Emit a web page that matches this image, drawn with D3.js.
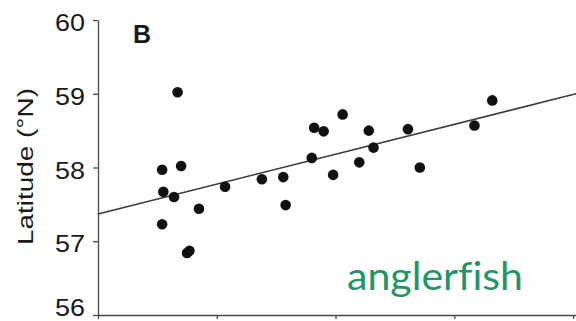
<!DOCTYPE html>
<html>
<head>
<meta charset="utf-8">
<script src="https://cdn.jsdelivr.net/npm/d3@7"></script>
<style>
  html, body { margin: 0; padding: 0; background: #fff; }
  svg { display: block; }
</style>
</head>
<body>
<svg id="chart" width="576" height="321"></svg>
<script>
// Station positions: predictor value (x) and latitude in °N (y)
const xValues = [0.67, 0.54, 0.70, 0.55, 0.64, 1.07, 0.85, 0.54, 0.77, 0.75,
                 1.38, 1.56, 1.58, 1.80, 1.82, 1.90, 2.06, 1.98, 2.28, 2.32,
                 2.20, 2.61, 2.71, 3.17, 3.32];
const latValues = [59.02, 57.97, 58.02, 57.67, 57.60, 57.74, 57.44, 57.23, 56.87, 56.84,
                   57.84, 57.87, 57.49, 58.13, 58.54, 58.49, 58.72, 57.90, 58.50, 58.27,
                   58.07, 58.52, 58.00, 58.57, 58.91];
// Least-squares trend line endpoints
const fitX = [0, 4.025];
const fitLat = [57.37, 59.0];
const yTicks = [56, 57, 58, 59, 60];
const xTicks = [0, 1, 2, 3, 4];
const panelLabel = "B";
const speciesLabel = "anglerfish";
const yTitle = "Latitude (°N)";

const svg = d3.select("#chart");
const x = d3.scaleLinear().domain([0, 4.025]).range([98, 576]);
const y = d3.scaleLinear().domain([56, 60]).range([315, 20]);

const axisColor = "#4a4a4a";

// Y axis
const yAxis = svg.append("g").attr("transform", `translate(${x(0)},0)`)
  .call(d3.axisLeft(y).tickValues(yTicks).tickSize(5).tickSizeOuter(0).tickFormat(""));
yAxis.selectAll("path, line").attr("stroke", axisColor).attr("stroke-width", 1.3);

svg.append("g").selectAll("text").data(yTicks).join("text")
  .attr("x", 85)
  .attr("y", d => Math.min(y(d) + 3, 307.5))
  .attr("dominant-baseline", "central")
  .attr("text-anchor", "end")
  .attr("font-family", "Liberation Sans, Arial, sans-serif")
  .attr("font-size", 23)
  .attr("textLength", 30)
  .attr("lengthAdjust", "spacingAndGlyphs")
  .attr("fill", "#1a1a1a")
  .text(d => d);

// X axis
const xAxis = svg.append("g").attr("transform", `translate(0,${y(56)})`)
  .call(d3.axisBottom(x).tickValues(xTicks).tickSize(4).tickSizeOuter(0).tickFormat(""));
xAxis.selectAll("path, line").attr("stroke", axisColor).attr("stroke-width", 1.3);

// Trend line
svg.append("line")
  .attr("x1", x(fitX[0])).attr("y1", y(fitLat[0]))
  .attr("x2", x(fitX[1])).attr("y2", y(fitLat[1]))
  .attr("stroke", "#3a3a3a").attr("stroke-width", 1.6);

// Points
svg.append("g").selectAll("circle").data(d3.zip(xValues, latValues)).join("circle")
  .attr("cx", d => x(d[0]))
  .attr("cy", d => y(d[1]))
  .attr("r", 5.3)
  .attr("fill", "#111");

// Y title
svg.append("text")
  .attr("transform", "translate(33,166.5) rotate(-90)")
  .attr("text-anchor", "middle")
  .attr("font-family", "Liberation Sans, Arial, sans-serif")
  .attr("font-size", 22)
  .attr("textLength", 157)
  .attr("lengthAdjust", "spacingAndGlyphs")
  .attr("fill", "#1a1a1a")
  .text(yTitle);

// Panel letter
svg.append("text")
  .attr("x", 133).attr("y", 43)
  .attr("font-family", "Liberation Sans, Arial, sans-serif")
  .attr("font-weight", "bold")
  .attr("font-size", 25)
  .attr("fill", "#1a1a1a")
  .text(panelLabel);

// Species name
svg.append("text")
  .attr("x", 347).attr("y", 290)
  .attr("font-family", "Lato, sans-serif")
  .attr("font-size", 38)
  .attr("textLength", 176)
  .attr("lengthAdjust", "spacingAndGlyphs")
  .style("font-variant-ligatures", "none")
  .style("font-feature-settings", "'liga' 0")
  .attr("fill", "#1f9668")
  .text(speciesLabel);
</script>
</body>
</html>
